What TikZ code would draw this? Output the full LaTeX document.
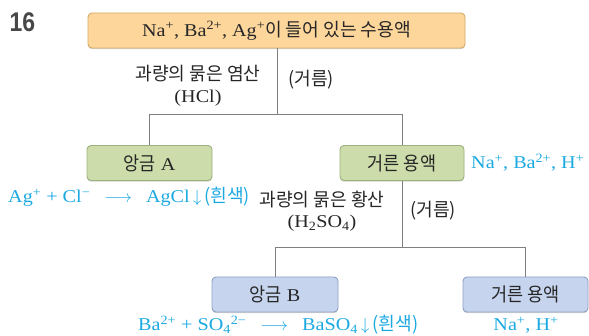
\documentclass[tikz,border=0pt]{standalone}
\usepackage{fontspec}
\setmainfont{Liberation Serif}[FakeStretch=1.12]
\newfontfamily\kr{Noto Sans CJK KR}[FakeStretch=0.98]
\newfontfamily\krbox{Noto Sans CJK KR}[FakeStretch=0.92]
\newfontfamily\numfont{Liberation Sans}[FakeStretch=0.85]
\usetikzlibrary{shadows}
\definecolor{orfill}{HTML}{FDD69B}
\definecolor{ordraw}{HTML}{D4AC66}
\definecolor{grfill}{HTML}{CCDCAA}
\definecolor{grdraw}{HTML}{9CB27C}
\definecolor{blfill}{HTML}{C6D4EE}
\definecolor{bldraw}{HTML}{8FA1C4}
\definecolor{cyantext}{HTML}{1BA9E1}
\definecolor{linegray}{HTML}{808080}
\newcommand{\up}[1]{\textsuperscript{#1}}
\newcommand{\dn}[1]{\textsubscript{#1}}
\newcommand{\krl}{\kr\fontsize{18.5}{21}\selectfont}
\newcommand{\krb}{\krbox\fontsize{19}{20}\selectfont}
\newcommand{\rarr}{\hspace{14pt}$\longrightarrow$\hspace{14pt}}
\tikzset{
  box/.style={rounded corners=4pt, line width=0.9pt, minimum height=35pt,
    font=\fontsize{18}{20}\selectfont, inner sep=0pt, text=black!85,
    drop shadow={shadow xshift=0pt, shadow yshift=-1.2pt, opacity=0.35, fill=black!50}},
  orbox/.style={box, fill=orfill, draw=ordraw},
  grbox/.style={box, fill=grfill, draw=grdraw},
  blbox/.style={box, fill=blfill, draw=bldraw},
  conn/.style={draw=linegray, line width=1pt},
  lbl/.style={font=\fontsize{18}{21.5}\selectfont, text=black!85, align=center, inner sep=0pt},
  eq/.style={font=\fontsize{18}{20}\selectfont, text=cyantext, inner sep=0pt},
}
\begin{document}
\begin{tikzpicture}[x=1pt, y=-1pt]
\useasboundingbox (0,0) rectangle (589,336);
\node[font=\numfont\bfseries\fontsize{27}{28}\selectfont, text=black!72] (num) at (22.5,22) {16};

\node[orbox, minimum width=377pt] (top) at (276.5,30.5)
  {Na\up{+}, Ba\up{2+}, Ag\up{+}{\krl 이 들어 있는 수용액}};
\node[grbox, minimum width=125pt] (A) at (149.5,163) {{\krb 앙금} A};
\node[grbox, minimum width=124pt] (F1) at (402,163) {\krb 거른 용액};
\node[blbox, minimum width=126pt] (B) at (275,294.5) {{\krb 앙금} B};
\node[blbox, minimum width=125pt] (F2) at (525.5,294.5) {\krb 거른 용액};

\coordinate (j1) at (277,115);
\coordinate (j2) at (402,248);
\draw[conn] (top.south -| j1) -- (j1);
\draw[conn] (A.north) -- (A.north |- j1) -- (F1.north |- j1) -- (F1.north);
\draw[conn] (F1.south) -- (j2);
\draw[conn] (B.north) -- (B.north |- j2) -- (F2.north |- j2) -- (F2.north);

\node[lbl] (l1) at (198,86) {{\krl 과량의 묽은 염산}\\(HCl)};
\node[lbl] (l2) at (311,80) {\krl (거름)};
\node[lbl] (l3) at (322,211) {{\krl 과량의 묽은 황산}\\(H\dn{2}SO\dn{4})};
\node[lbl] (l4) at (433,211) {\krl (거름)};

\node[eq, anchor=west] (ionsF1) at (471,163) {Na\up{+}, Ba\up{2+}, H\up{+}};
\node[eq, anchor=west] (eqA) at (8,197)
  {Ag\up{+} + Cl\up{−}\rarr AgCl\,$\downarrow$\,{\krl (흰색)}};
\node[eq, anchor=west] (eqB) at (138,325)
  {Ba\up{2+} + SO\dn{4}\up{2−}\rarr BaSO\dn{4}\,$\downarrow$\,{\krl (흰색)}};
\node[eq] (ionsF2) at (526,325) {Na\up{+}, H\up{+}};
\end{tikzpicture}
\end{document}
